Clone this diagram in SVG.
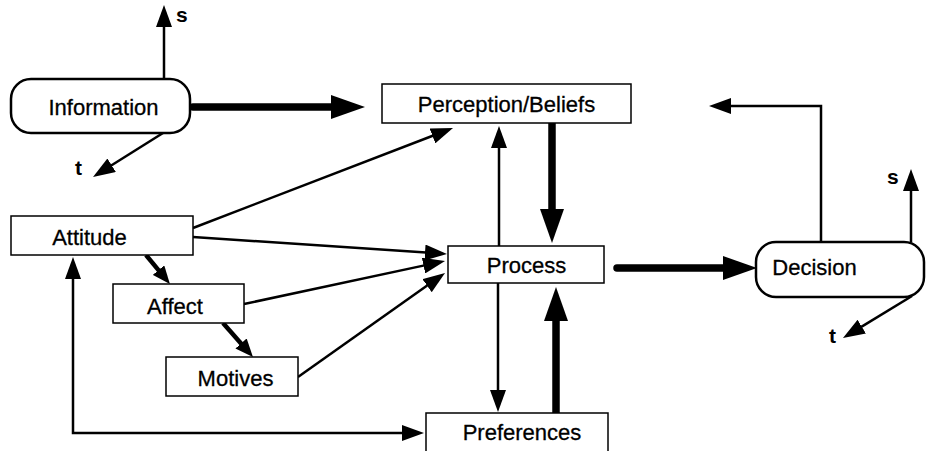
<svg xmlns="http://www.w3.org/2000/svg" width="926" height="451" viewBox="0 0 926 451">
<style>
.box{fill:#fff;stroke:#000;stroke-width:1.5}
.rbox{fill:#fff;stroke:#000;stroke-width:2.5}
.lbl{font-family:"Liberation Sans",Arial,sans-serif;font-size:22px;fill:#000;stroke:#000;stroke-width:0.3;text-anchor:middle}
.ax{font-family:"Liberation Sans",Arial,sans-serif;font-size:21px;font-weight:bold;fill:#000}
.thin{fill:none;stroke:#000;stroke-width:2.5;marker-end:url(#ah)}
.med{fill:none;stroke:#000;stroke-width:4.5;marker-end:url(#am)}
.thick{fill:none;stroke:#000;stroke-width:7.5;marker-end:url(#ak)}
</style>
<defs>
<marker id="ah" markerUnits="userSpaceOnUse" markerWidth="22" markerHeight="16" refX="1" refY="8" orient="auto-start-reverse" viewBox="0 0 22 16"><path d="M0,0 L22,8 L0,16 Z" fill="#000"/></marker>
<marker id="am" markerUnits="userSpaceOnUse" markerWidth="18" markerHeight="15" refX="1" refY="7.5" orient="auto" viewBox="0 0 18 15"><path d="M0,0 L18,7.5 L0,15 Z" fill="#000"/></marker>
<marker id="ak" markerUnits="userSpaceOnUse" markerWidth="34" markerHeight="24" refX="1" refY="12" orient="auto" viewBox="0 0 34 24"><path d="M0,0 L34,12 L0,24 Z" fill="#000"/></marker>
</defs>
<g id="connectors">
<path class="thick" stroke-linecap="round" d="M193,107 L332,107"/>
<path class="thick" d="M552,123 L552,210"/>
<path class="thick" d="M556,413 L556,320"/>
<path class="thick" stroke-linecap="round" d="M617,268 L724,268"/>
<path class="thin" d="M499,246 L499,147"/>
<path class="thin" d="M498,283 L498,391"/>
<path class="thin" d="M821,242 L821,106 L730,106"/>
<path class="thin" d="M164,79 L164,26"/>
<path class="thin" d="M163,133 L110.8,165.8"/>
<path class="thin" d="M911,242 L911,190"/>
<path class="thin" d="M912,296 L860.9,327.1"/>
<path class="thin" d="M193,228 L433.4,135.5"/>
<path class="thin" d="M193,237 L426,252.6"/>
<path class="thin" d="M244,304 L424.5,265.4"/>
<path class="thin" d="M298,377 L427.9,285.1"/>
<path class="thin" style="marker-start:url(#ah)" d="M73,278 L73,433 L403,433"/>
<path class="med" d="M146,255 L159.1,270.9"/>
<path class="med" d="M223,323 L241.7,344.2"/>
</g>
<g id="information">
<rect class="rbox" x="11" y="79" width="179" height="54" rx="20"/>
<text class="lbl" x="103.5" y="115">Information</text>
<text class="ax" x="176" y="22">s</text>
<text class="ax" x="75" y="175">t</text>
</g>
<g id="perception">
<rect class="box" x="382" y="84" width="249" height="39"/>
<text class="lbl" x="506.5" y="112">Perception/Beliefs</text>
</g>
<g id="attitude">
<rect class="box" x="11" y="216" width="182" height="39"/>
<text class="lbl" x="89.5" y="245">Attitude</text>
</g>
<g id="affect">
<rect class="box" x="113" y="284" width="131" height="39"/>
<text class="lbl" x="175" y="314">Affect</text>
</g>
<g id="motives">
<rect class="box" x="166" y="357" width="132" height="39"/>
<text class="lbl" x="235.5" y="386">Motives</text>
</g>
<g id="process">
<rect class="box" x="448" y="246" width="156" height="37"/>
<text class="lbl" x="526.5" y="273">Process</text>
</g>
<g id="preferences">
<rect class="box" x="426" y="413" width="182" height="45"/>
<text class="lbl" x="522" y="440">Preferences</text>
</g>
<g id="decision">
<rect class="rbox" x="756" y="242" width="168" height="55" rx="20"/>
<text class="lbl" x="814.5" y="275">Decision</text>
<text class="ax" x="887" y="184">s</text>
<text class="ax" x="829" y="343">t</text>
</g>
</svg>
